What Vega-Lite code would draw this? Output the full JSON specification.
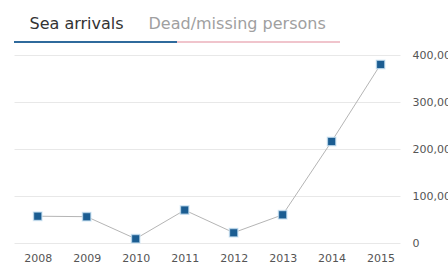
{
  "$schema": "https://vega.github.io/schema/vega-lite/v6.json",
  "padding": {"left": 14, "top": 15, "right": 0, "bottom": 0},
  "background": "white",
  "config": {"view": {"stroke": null}, "font": "DejaVu Sans", "axis": {"labelFont": "DejaVu Sans"}, "concat": {"spacing": 6}},
  "vconcat": [
    {
      "width": 326,
      "height": 2,
      "data": {"values": [{"tab": "Sea arrivals"}, {"tab": "Dead/missing persons"}]},
      "mark": {"type": "bar"},
      "encoding": {
        "x": {
          "field": "tab", "type": "nominal", "sort": null,
          "scale": {"paddingInner": 0, "paddingOuter": 0},
          "axis": {
            "orient": "top", "title": null, "domain": false, "ticks": false,
            "labelAngle": 0, "labelFontSize": 16, "labelPadding": 10,
            "labelFont": "DejaVu Sans",
            "labelAlign": "left",
            "labelOffset": {"condition": {"test": "datum.value == 'Sea arrivals'", "value": -66}, "value": -110},
            "labelColor": {"condition": {"test": "datum.value == 'Sea arrivals'", "value": "#333333"}, "value": "#a0a0a0"}
          }
        },
        "color": {
          "field": "tab", "type": "nominal", "legend": null,
          "scale": {"domain": ["Sea arrivals", "Dead/missing persons"], "range": ["#2f6a9c", "#f0c4cc"]}
        }
      }
    },
    {
      "width": 386,
      "height": 188,
      "data": {"values": [
        {"year": "2008", "arrivals": 57000},
        {"year": "2009", "arrivals": 56000},
        {"year": "2010", "arrivals": 9000},
        {"year": "2011", "arrivals": 70000},
        {"year": "2012", "arrivals": 22000},
        {"year": "2013", "arrivals": 60000},
        {"year": "2014", "arrivals": 216000},
        {"year": "2015", "arrivals": 380000}
      ]},
      "encoding": {
        "x": {
          "field": "year", "type": "ordinal",
          "scale": {"type": "point", "padding": 0.44, "align": 0.55},
          "axis": {"title": null, "domain": false, "ticks": false, "labelAngle": 0,
                   "labelFontSize": 11, "labelColor": "#555555", "labelPadding": 9, "grid": false}
        },
        "y": {
          "field": "arrivals", "type": "quantitative",
          "scale": {"domain": [0, 400000]},
          "axis": {"orient": "right", "title": null, "domain": false, "ticks": false,
                   "tickCount": 4, "format": ",d", "labelFontSize": 11, "labelColor": "#555555",
                   "labelPadding": 12, "gridColor": "#e8e8e8", "gridWidth": 1}
        }
      },
      "layer": [
        {"mark": {"type": "line", "color": "#b5b5b5", "strokeWidth": 1}},
        {"mark": {"type": "square", "size": 72, "color": "#1b5d92", "opacity": 1, "filled": true, "stroke": "#cfe6f5", "strokeWidth": 1.5, "strokeOpacity": 0.7}}
      ]
    }
  ]
}
